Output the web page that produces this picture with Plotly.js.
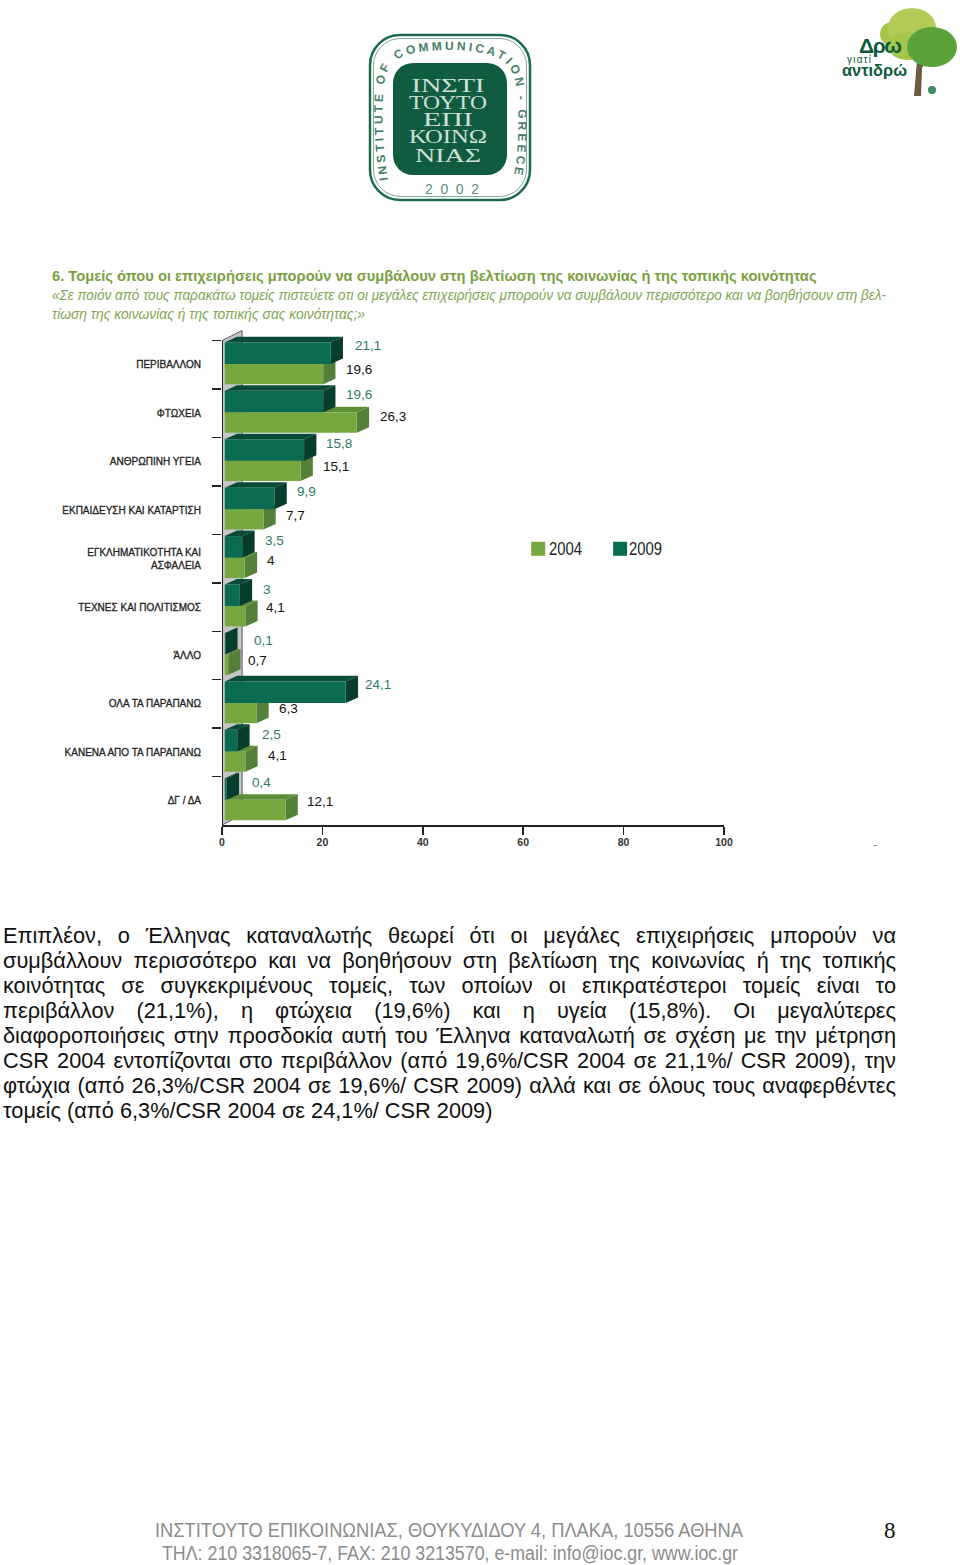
<!DOCTYPE html>
<html lang="el">
<head>
<meta charset="utf-8">
<title>Τομείς</title>
<script src="https://cdn.plot.ly/plotly-3.0.1.min.js"></script>
<style>
  html, body { margin: 0; padding: 0; background: #fff; }
  #page { position: relative; width: 960px; height: 1565px; overflow: hidden; }
  #chart { position: absolute; left: 0; top: 0; }
  #chart .ytick text { stroke: #222; stroke-width: 0.3px; }
  #deco { position: absolute; left: 0; top: 0; z-index: 2; pointer-events: none; }
  #body-text { position: absolute; left: 3px; top: 923px; width: 893px; z-index: 2;
    font: 21.75px/25px "Liberation Sans", Arial, sans-serif; color: #111; }
  #body-text div { text-align: justify; text-align-last: justify; }
  #body-text div:last-child { text-align-last: left; }
</style>
</head>
<body>
<div id="page">
  <div id="chart"></div>
  <div id="body-text"></div>
  <svg id="deco" width="960" height="1565" xmlns="http://www.w3.org/2000/svg">
    <!-- institute logo -->
    <rect x="370" y="35" width="160" height="165" rx="30" fill="#fff" stroke="#1c6a4c" stroke-width="2.5"/>
    <rect x="373.500" y="38.500" width="153" height="158" rx="27" fill="none" stroke="#7fa896" stroke-width="1"/>
    <rect x="393" y="63" width="114" height="112" rx="20" fill="#0f5c40"/>
    <path id="ring" d="M 388 180 C 383 150 381 110 384 85 C 386 64 398 55 420 52 C 450 48 480 50 498 58 C 513 65 517 80 518 105 C 519 135 518 155 513 182" fill="none"/>
    <text font-family="Liberation Sans" font-weight="bold" font-size="12" fill="#47806a">
      <textPath href="#ring" textLength="352" lengthAdjust="spacing">INSTITUTE OF COMMUNICATION - GREECE</textPath>
    </text>
    <text x="425" y="194" font-family="Liberation Sans" font-size="14" fill="#5c8a76" textLength="54">2002</text>
    <g font-family="Liberation Serif" font-size="19" fill="#cfe0d8" text-anchor="middle">
      <text x="448" y="92" textLength="73" lengthAdjust="spacingAndGlyphs">ΙΝΣΤΙ</text>
      <text x="448" y="109" textLength="78" lengthAdjust="spacingAndGlyphs">ΤΟΥΤΟ</text>
      <text x="448" y="126" textLength="50" lengthAdjust="spacingAndGlyphs">ΕΠΙ</text>
      <text x="448" y="143" textLength="78" lengthAdjust="spacingAndGlyphs">ΚΟΙΝΩ</text>
      <text x="448" y="162" textLength="66" lengthAdjust="spacingAndGlyphs">ΝΙΑΣ</text>
    </g>
    <!-- tree logo -->
    <path d="M 917 60 L 914 96 L 921 96 L 922 68 L 930 56 L 922 60 Z" fill="#6d5c40"/>
    <circle cx="892" cy="34" r="12" fill="#a5c64a"/>
    <ellipse cx="912" cy="28" rx="24" ry="20" fill="#b3cc55"/>
    <ellipse cx="908" cy="46" rx="20" ry="14" fill="#a5c64a"/>
    <ellipse cx="932" cy="47" rx="25" ry="20" fill="#5ca23a"/>
    <circle cx="932" cy="90" r="4" fill="#3e8a66"/>
    <g font-family="Liberation Sans" font-weight="bold" fill="#0e5a3a">
      <text x="859" y="53" font-size="21" textLength="43">Δρω</text>
      <text x="847" y="63" font-size="10" font-weight="normal" textLength="24">γιατί</text>
      <text x="842" y="76" font-size="16" textLength="65" lengthAdjust="spacingAndGlyphs">αντιδρώ</text>
    </g>
    <!-- question under the title -->
    <g font-family="Liberation Sans" font-style="italic" font-size="14" fill="#7fa650">
      <text x="52" y="300" textLength="834" lengthAdjust="spacingAndGlyphs">«Σε ποιόν από τους παρακάτω τομείς πιστεύετε οτι οι μεγάλες επιχειρήσεις μπορούν να συμβάλουν περισσότερο και να βοηθήσουν στη βελ-</text>
      <text x="52" y="319" textLength="313" lengthAdjust="spacingAndGlyphs">τίωση της κοινωνίας ή της τοπικής σας κοινότητας;»</text>
    </g>
    <!-- legend labels -->
    <g font-family="Liberation Sans" font-size="18" fill="#222">
      <text x="549" y="555" textLength="33" lengthAdjust="spacingAndGlyphs">2004</text>
      <text x="629" y="555" textLength="33" lengthAdjust="spacingAndGlyphs">2009</text>
    </g>
    <!-- page footer -->
    <g font-family="Liberation Sans" font-size="20" fill="#8c8c8c">
      <text x="155" y="1537" textLength="588" lengthAdjust="spacingAndGlyphs">ΙΝΣΤΙΤΟΥΤΟ ΕΠΙΚΟΙΝΩΝΙΑΣ, ΘΟΥΚΥΔΙΔΟΥ 4, ΠΛΑΚΑ, 10556 ΑΘΗΝΑ</text>
      <text x="162" y="1560" textLength="576" lengthAdjust="spacingAndGlyphs">ΤΗΛ: 210 3318065-7, FAX: 210 3213570, e-mail: info@ioc.gr, www.ioc.gr</text>
    </g>
    <text x="884" y="1538" font-family="Liberation Serif" font-size="23" fill="#111">8</text>
  </svg>
</div>
<script>
// === Data ===
const categories = [
  'ΠΕΡΙΒΑΛΛΟΝ', 'ΦΤΩΧΕΙΑ', 'ΑΝΘΡΩΠΙΝΗ ΥΓΕΙΑ', 'ΕΚΠΑΙΔΕΥΣΗ ΚΑΙ ΚΑΤΑΡΤΙΣΗ',
  'ΕΓΚΛΗΜΑΤΙΚΟΤΗΤΑ ΚΑΙ<br>ΑΣΦΑΛΕΙΑ', 'ΤΕΧΝΕΣ ΚΑΙ ΠΟΛΙΤΙΣΜΟΣ', 'ΆΛΛΟ',
  'ΟΛΑ ΤΑ ΠΑΡΑΠΑΝΩ', 'ΚΑΝΕΝΑ ΑΠΟ ΤΑ ΠΑΡΑΠΑΝΩ', 'ΔΓ / ΔΑ'
];
const values2009 = [21.1, 19.6, 15.8, 9.9, 3.5, 3, 0.1, 24.1, 2.5, 0.4];
const values2004 = [19.6, 26.3, 15.1, 7.7, 4, 4.1, 0.7, 6.3, 4.1, 12.1];
const xTicks = [0, 20, 40, 60, 80, 100];

const bodyLines = [
  'Επιπλέον, ο Έλληνας καταναλωτής θεωρεί ότι οι μεγάλες επιχειρήσεις μπορούν να',
  'συμβάλλουν περισσότερο και να βοηθήσουν στη βελτίωση της κοινωνίας ή της τοπικής',
  'κοινότητας σε συγκεκριμένους τομείς, των οποίων οι  επικρατέστεροι τομείς είναι το',
  'περιβάλλον (21,1%), η φτώχεια (19,6%) και η υγεία (15,8%). Οι μεγαλύτερες',
  'διαφοροποιήσεις στην προσδοκία αυτή του Έλληνα καταναλωτή σε σχέση με την μέτρηση',
  'CSR 2004 εντοπίζονται στο περιβάλλον (από 19,6%/CSR 2004 σε 21,1%/ CSR 2009), την',
  'φτώχια (από 26,3%/CSR 2004 σε 19,6%/ CSR 2009) αλλά και σε όλους τους αναφερθέντες',
  'τομείς (από 6,3%/CSR 2004 σε 24,1%/ CSR 2009)'
];

// === Styling ===
const FRONT_2009 = '#0b6b50';
const SIDE_2009 = '#063d2c';
const TOP_2009 = '#0a4a38';
const FRONT_2004 = '#76a83f';
const SIDE_2004 = '#55803a';
const TOP_2004 = '#5f8e38';
const LABEL_2009 = '#2f7a66';
const LABEL_2004 = '#111';
const AXIS_COLOR = '#222';
const WALL_COLOR = '#c6c6c6';
const SANS = '"Liberation Sans", sans-serif';

// Plot frame in page pixels
const LEFT = 221.5, RIGHT = 724, TOP = 330.4, BOTTOM = 825;

// Bar geometry in axis units (x: percent, y: category steps)
const BAR_BASE = 0.55;
const OFFSET_2009 = -0.465, WIDTH_2009 = 0.445;
const OFFSET_2004 = -0.02, WIDTH_2004 = 0.42;
const DEPTH_X = 2.45, DEPTH_Y = 0.114;
const WALL_X = 4, WALL_Y = 0.21;

// Hand placement of the value labels, in pixels, row by row
const nudgeX2009 = [0, -2, -3, -2, -2, -1, 4, -5, 0, 1];
const nudgeY2009 = [0, 0, 1, 0, 1, 1, 4, -1, 1, 1];
const nudgeX2004 = [0, 0, -1, 0, -1, -2, -3, 0, 0, -2];
const nudgeY2004 = [2, 0, 2, 2, -1, -2, 2, 2, 0, -2];

const px = x => (x - LEFT) / (RIGHT - LEFT);
const py = y => (BOTTOM - y) / (BOTTOM - TOP);

document.getElementById('body-text').innerHTML =
  bodyLines.map(l => '<div>' + l + '</div>').join('');

// === Extruded faces of one bar, as data-space polygons ===
function barFaces(i, value, offset, width, sideColor, topColor) {
  const x0 = BAR_BASE, x1 = BAR_BASE + value;
  const yTop = i + offset, yBot = yTop + width;
  const poly = (pts, color) => ({
    type: 'path', layer: 'below', xref: 'x', yref: 'y',
    path: 'M ' + pts.map(p => p[0].toFixed(3) + ' ' + p[1].toFixed(3)).join(' L ') + ' Z',
    fillcolor: color, line: { width: 0 }
  });
  return [
    poly([[x0, yTop], [x0 + DEPTH_X, yTop - DEPTH_Y], [x1 + DEPTH_X, yTop - DEPTH_Y], [x1, yTop]], topColor),
    poly([[x1, yTop], [x1 + DEPTH_X, yTop - DEPTH_Y], [x1 + DEPTH_X, yBot - DEPTH_Y], [x1, yBot]], sideColor)
  ];
}

const lastRow = categories.length - 0.5;

const shapes = [
  // back wall
  {
    type: 'path', layer: 'below', xref: 'x', yref: 'y',
    path: `M 0 ${lastRow} L 0 -0.5 L ${WALL_X} ${-0.5 - WALL_Y} L ${WALL_X} ${lastRow - WALL_Y} Z`,
    fillcolor: WALL_COLOR, line: { color: '#555', width: 1 }
  },
  // category axis line
  {
    type: 'line', layer: 'below', xref: 'x', yref: 'y',
    x0: 0, x1: 0, y0: -0.5, y1: lastRow,
    line: { color: AXIS_COLOR, width: 2 }
  }
];
categories.forEach((c, i) => shapes.push(...barFaces(i, values2004[i], OFFSET_2004, WIDTH_2004, SIDE_2004, TOP_2004)));
categories.forEach((c, i) => shapes.push(...barFaces(i, values2009[i], OFFSET_2009, WIDTH_2009, SIDE_2009, TOP_2009)));

// legend squares
[[531, FRONT_2004], [613, FRONT_2009]].forEach(([x, color]) => shapes.push({
  type: 'rect', xref: 'paper', yref: 'paper',
  x0: px(x), x1: px(x + 14), y0: py(556), y1: py(542),
  fillcolor: color, line: { width: 0 }
}));

function valueLabel(i, v, shiftX, shiftY, dy, color) {
  return {
    xref: 'x', yref: 'y', x: BAR_BASE + v, y: i + dy,
    xshift: shiftX, yshift: -shiftY, xanchor: 'left', yanchor: 'middle', showarrow: false,
    text: String(v).replace('.', ','),
    font: { family: SANS, size: 13.5, color: color }
  };
}

const annotations = [];
categories.forEach((c, i) => {
  annotations.push(valueLabel(i, values2009[i], 22.5 + nudgeX2009[i], nudgeY2009[i], -0.39, LABEL_2009));
  annotations.push(valueLabel(i, values2004[i], 21 + nudgeX2004[i], nudgeY2004[i], 0.06, LABEL_2004));
});
annotations.push({
  xref: 'paper', yref: 'paper', x: px(880), y: py(853),
  showarrow: false, text: '–', font: { size: 9, color: '#777' }
});

const traces = [
  {
    type: 'bar', orientation: 'h', name: '2004', y: categories, x: values2004,
    base: BAR_BASE, offset: OFFSET_2004, width: WIDTH_2004,
    marker: { color: FRONT_2004, line: { width: 0 } }
  },
  {
    type: 'bar', orientation: 'h', name: '2009', y: categories, x: values2009,
    base: BAR_BASE, offset: OFFSET_2009, width: WIDTH_2009,
    marker: { color: FRONT_2009, line: { width: 0 } }
  }
];

const layout = {
  width: 960,
  height: 1565,
  margin: { l: LEFT, r: 960 - RIGHT, t: TOP, b: 1565 - BOTTOM, pad: 0 },
  paper_bgcolor: '#fff',
  plot_bgcolor: 'rgba(0,0,0,0)',
  barmode: 'overlay',
  showlegend: false,
  title: {
    text: '<b>6. Τομείς όπου οι επιχειρήσεις μπορούν να συμβάλουν στη βελτίωση της κοινωνίας ή της τοπικής κοινότητας</b>',
    x: 52 / 960, xanchor: 'left',
    y: 1 - 276 / 1565, yanchor: 'middle',
    font: { family: SANS, size: 14.7, color: '#7aa03f' }
  },
  xaxis: {
    range: [0, 100], tickmode: 'array', tickvals: xTicks, ticktext: xTicks.map(String),
    showgrid: false, zeroline: false, showline: true, linecolor: AXIS_COLOR, linewidth: 2,
    ticks: 'outside', ticklen: 8, tickwidth: 1.5, tickcolor: AXIS_COLOR, ticklabelstandoff: -2,
    tickfont: { family: SANS, size: 10.5, color: '#333', weight: 'bold' }
  },
  yaxis: {
    type: 'category', categoryorder: 'array', categoryarray: categories,
    range: [categories.length - 0.5, -0.72],
    tickson: 'boundaries', ticks: 'outside', ticklen: 9, tickwidth: 1.5, tickcolor: AXIS_COLOR,
    showgrid: false, zeroline: false, showline: false, ticklabelstandoff: 20,
    tickfont: { family: SANS, size: 10, color: '#222' }
  },
  shapes: shapes,
  annotations: annotations
};

Plotly.newPlot('chart', traces, layout, { displayModeBar: false, staticPlot: true });
</script>
</body>
</html>
